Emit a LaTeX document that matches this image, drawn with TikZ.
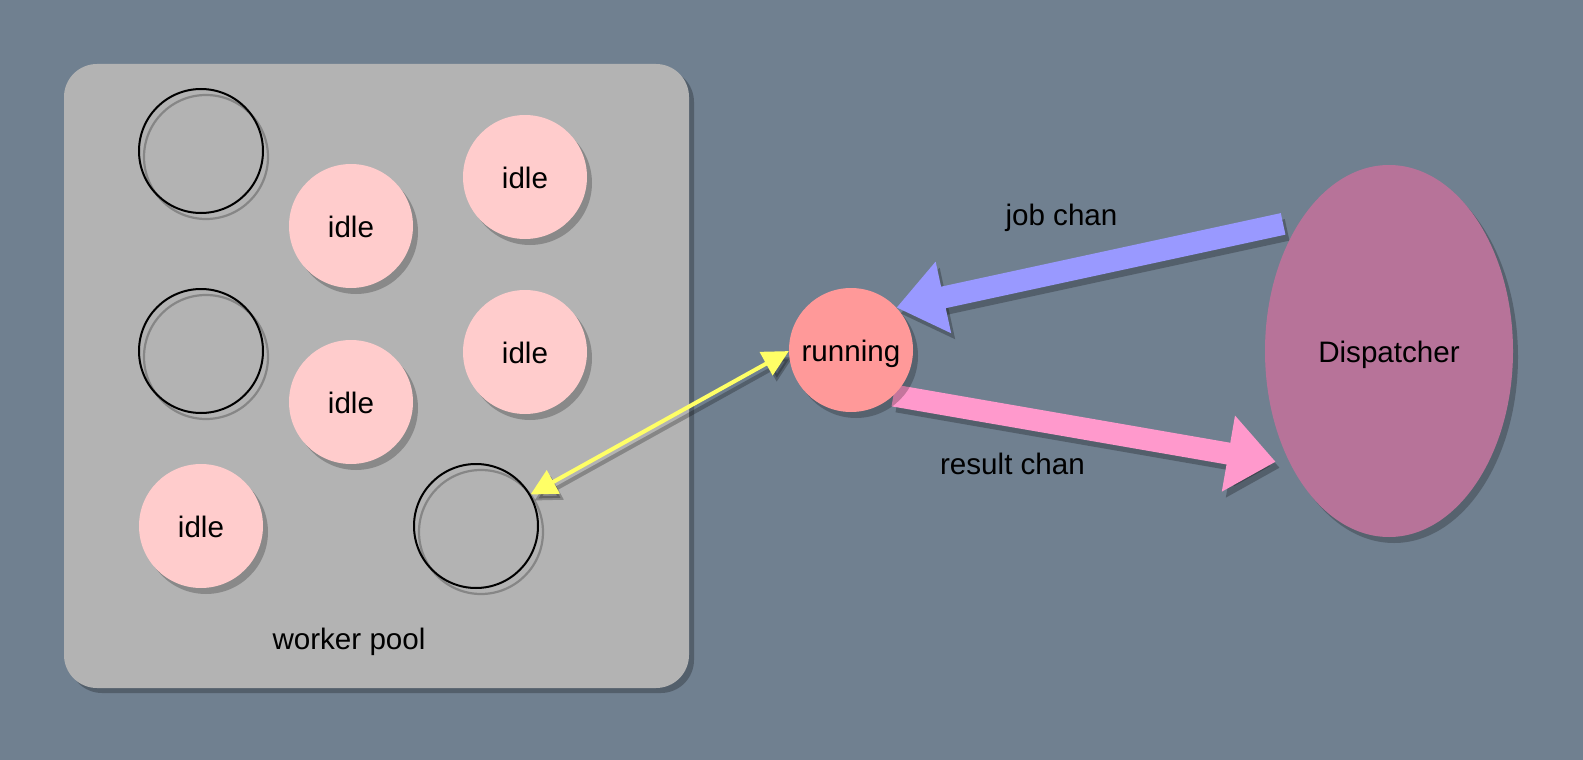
\documentclass[tikz,border=0pt]{standalone}
\usepackage{fontspec}
\setmainfont{Liberation Sans}
\usetikzlibrary{arrows.meta,shadows,shapes.geometric}
\definecolor{bgcol}{HTML}{708090}
\definecolor{boxcol}{HTML}{B3B3B3}
\definecolor{idlecol}{HTML}{FFCCCC}
\definecolor{runcol}{HTML}{FF9999}
\definecolor{dispcol}{HTML}{B77399}
\definecolor{jobcol}{HTML}{9999FF}
\definecolor{rescol}{HTML}{FF99CC}
\definecolor{yelcol}{HTML}{FFFF66}
\pgfdeclarelayer{back}
\pgfdeclarelayer{edges}
\pgfsetlayers{back,edges,main}
\begin{document}
\begin{tikzpicture}[x=1pt,y=-1pt,
  font=\fontsize{29.6}{35}\selectfont,
  nshadow/.style={drop shadow={shadow xshift=5pt,shadow yshift=-6pt,fill=black,opacity=0.23}},
  worker/.style={circle,minimum size=124pt,inner sep=0pt,text height=23pt,text depth=0pt},
  idlenode/.style={worker,fill=idlecol,nshadow},
  runnode/.style={worker,fill=runcol,nshadow},
  emptynode/.style={worker,draw=black,line width=2pt,
    drop shadow={shadow xshift=5pt,shadow yshift=-6pt,fill=none,draw=black,opacity=0.25,line width=2.2pt}},
  poolbox/.style={rectangle,rounded corners=33pt,fill=boxcol,minimum width=625pt,minimum height=624pt,
    inner sep=0pt,drop shadow={shadow xshift=5pt,shadow yshift=-5pt,fill=black,opacity=0.25}},
  dispnode/.style={ellipse,minimum width=248pt,minimum height=372pt,inner sep=0pt,fill=dispcol,
    text height=23pt,text depth=0pt,nshadow},
  jobarrow/.style={draw=jobcol,line width=22pt,-{Triangle[length=48pt,width=70pt]}},
  resarrow/.style={draw=rescol,line width=22pt,-{Triangle[length=48pt,width=74pt]}},
  yarrow/.style={draw=yelcol,line width=4pt,{Triangle[length=26pt,width=26pt]}-{Triangle[length=26pt,width=26pt]}},
  shadowcopy/.style={draw=black,opacity=0.25,transform canvas={shift={(4pt,-6pt)}}},
  lbl/.style={anchor=base,inner sep=0pt}
]
\begin{pgfonlayer}{back}
  \fill[bgcol] (0,0) rectangle (1583,760);
  \node[poolbox] (pool) at (376.5,376) {};
\end{pgfonlayer}
\useasboundingbox (0,0) rectangle (1583,760);

% workers
\node[emptynode] (w1) at (201,151) {};
\node[idlenode] (ia) at (351,226) {idle};
\node[idlenode] (ib) at (525,177) {idle};
\node[emptynode] (w2) at (201,351) {};
\node[idlenode] (ic) at (525,352) {idle};
\node[idlenode] (id) at (351,402) {idle};
\node[idlenode] (ie) at (201,526) {idle};
\node[emptynode] (w3) at (476,526) {};
\node[lbl] (poollbl) at (349,649) {worker pool};

\node[runnode] (run) at (851,350) {running};
\node[dispnode] (disp) at (1389,351) {Dispatcher};

\node[lbl] (joblbl) at (1061.5,225) {job chan};
\node[lbl] (reslbl) at (1012.5,474) {result chan};

\begin{pgfonlayer}{edges}
  \draw[jobarrow,shadowcopy,shorten <=18pt] (disp.124) -- (run.43);
  \draw[jobarrow,shorten <=18pt] (disp.124) -- (run.43);
  \draw[resarrow,shadowcopy,shorten >=15pt] (run.-47) -- (disp.229);
  \draw[resarrow,shorten >=15pt] (run.-47) -- (disp.229);
  \draw[yarrow,shadowcopy] (w3.30) -- (run.181);
  \draw[yarrow] (w3.30) -- (run.181);
\end{pgfonlayer}
\end{tikzpicture}
\end{document}
